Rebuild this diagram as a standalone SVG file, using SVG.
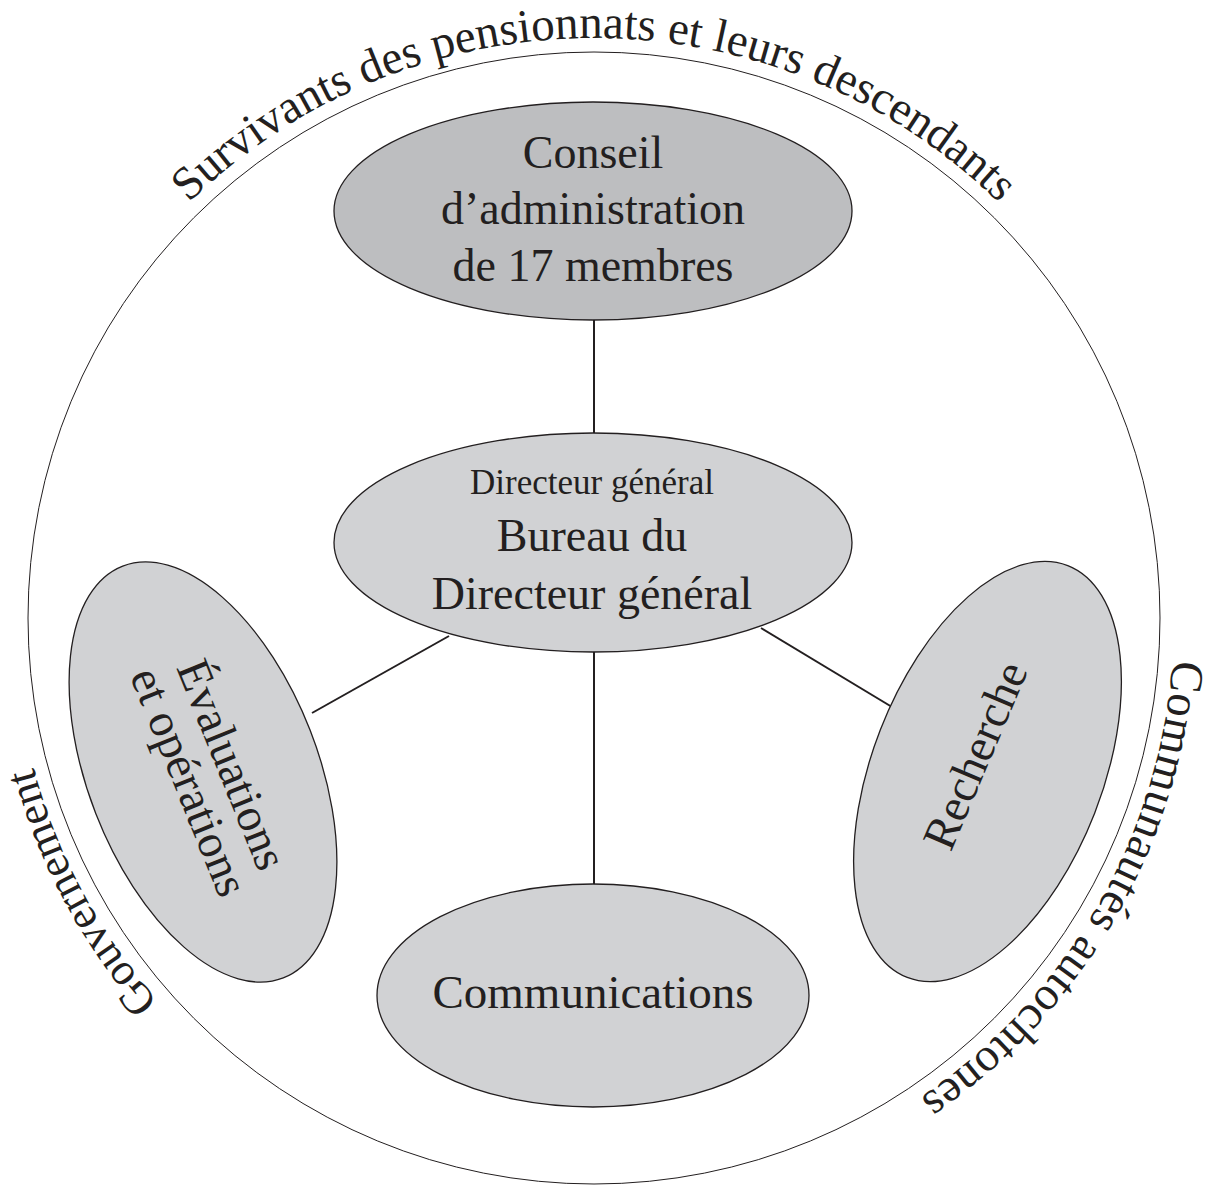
<svg xmlns="http://www.w3.org/2000/svg" width="1211" height="1186" viewBox="0 0 1211 1186">
  <defs>
    <path id="ring" d="M 1174 618 A 580 580 0 1 1 14 618 A 580 580 0 1 1 1174 618"/>
  </defs>
  <style>
    .node { fill: #d1d2d4; stroke: #231f20; stroke-width: 1.3; }
    .dark { fill: #bdbec0; }
    .t { font-family: "Liberation Serif", "DejaVu Serif", serif; fill: #231f20; text-anchor: middle; }
    .big { font-size: 46px; }
    .mid { font-size: 47px; }
    .small { font-size: 35px; }
    .arc { font-family: "Liberation Serif", "DejaVu Serif", serif; fill: #231f20; font-size: 47px; text-anchor: middle; }
    .conn line { stroke: #231f20; stroke-width: 2; }
  </style>
  <rect width="1211" height="1186" fill="#ffffff"/>

  <g id="outer-circle">
    <circle cx="594" cy="618" r="566" fill="none" stroke="#231f20" stroke-width="1"/>
    <text class="arc"><textPath href="#ring" startOffset="2733">Survivants des pensionnats et leurs descendants</textPath></text>
    <text class="arc" letter-spacing="0.7"><textPath href="#ring" startOffset="304">Communautés autochtones</textPath></text>
    <text class="arc" style="font-size:45px"><textPath href="#ring" startOffset="1537">Gouvernement</textPath></text>
  </g>

  <g id="connectors" class="conn">
    <line x1="594" y1="319" x2="594" y2="434"/>
    <line x1="594" y1="651" x2="594" y2="885"/>
    <line x1="449" y1="636" x2="312" y2="713"/>
    <line x1="761" y1="628" x2="892" y2="707"/>
  </g>

  <g id="conseil">
    <ellipse class="node dark" cx="593" cy="211" rx="259" ry="109"/>
    <text class="t big" x="593" y="168">Conseil</text>
    <text class="t big" x="593" y="224">d’administration</text>
    <text class="t big" x="593" y="281">de 17 membres</text>
  </g>

  <g id="directeur">
    <ellipse class="node" cx="593" cy="542.5" rx="259" ry="109.5"/>
    <text class="t small" x="592" y="494">Directeur général</text>
    <text class="t big" x="592" y="551">Bureau du</text>
    <text class="t big" x="592" y="609">Directeur général</text>
  </g>

  <g id="evaluations">
    <ellipse class="node" cx="0" cy="0" rx="221" ry="115" transform="translate(203 772) rotate(68.7)"/>
    <g transform="translate(203 772) rotate(68)">
      <text class="t mid" x="4" y="-14">Évaluations</text>
      <text class="t mid" x="4" y="32">et opérations</text>
    </g>
  </g>

  <g id="recherche">
    <ellipse class="node" cx="0" cy="0" rx="221" ry="115" transform="translate(987.5 771.5) rotate(-68.7)"/>
    <text class="t mid" x="10" y="-2" transform="translate(987.5 771.5) rotate(-67)">Recherche</text>
  </g>

  <g id="communications">
    <ellipse class="node" cx="593" cy="995.5" rx="216" ry="111.5"/>
    <text class="t mid" x="593" y="1008">Communications</text>
  </g>
</svg>
